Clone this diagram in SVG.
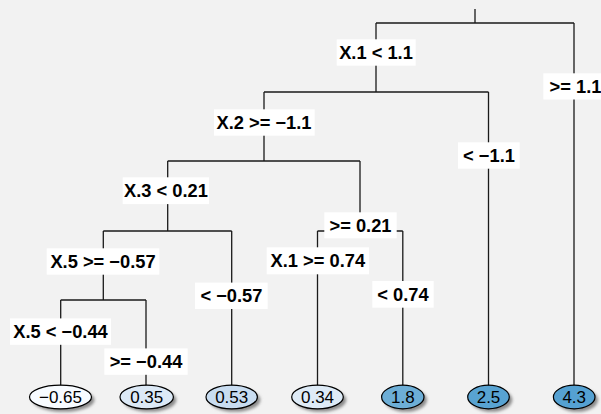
<svg xmlns="http://www.w3.org/2000/svg" width="601" height="414" viewBox="0 0 601 414">
<style>
.ln{stroke:#1a1a1a;stroke-width:1.3;fill:none}
.lb{fill:#ffffff;stroke:none}
.lt{font-family:"Liberation Sans",Arial,sans-serif;font-weight:bold;font-size:18.3px;text-anchor:middle;fill:#000}
.lf{stroke:#000;stroke-width:1.2}
.ft{font-family:"Liberation Sans",Arial,sans-serif;font-size:17px;text-anchor:middle;fill:#000}
.sh{fill:#8c8c8c;filter:url(#blur)}
</style>
<defs>
<filter id="blur" x="-30%" y="-50%" width="160%" height="200%"><feGaussianBlur stdDeviation="1.6"/></filter>
</defs>
<rect x="0" y="0" width="601" height="414" fill="#f2f2f2"/>
<g id="connectors">
<path class="ln" d="M475,9V23M376,23H574M376,23V92M574,23V386"/>
<path class="ln" d="M264,92H488.5M264,92V161M488.5,92V386"/>
<path class="ln" d="M167.7,161H360M167.7,161V231M360,161V231"/>
<path class="ln" d="M103.3,231H231.7M103.3,231V300M231.7,231V386"/>
<path class="ln" d="M317.5,231H402.8M317.5,231V386M402.8,231V386"/>
<path class="ln" d="M60.7,300H146M60.7,300V386M146,300V386"/>
</g>
<g id="labels">
<g id="l1"><rect class="lb" x="336.7" y="39.3" width="79" height="26.4"/><text class="lt" x="376" y="58.9">X.1 &lt; 1.1</text></g>
<g id="l2"><rect class="lb" x="543.3" y="73.3" width="62" height="26.2"/><text class="lt" x="575.5" y="92.7">&gt;= 1.1</text></g>
<g id="l3"><rect class="lb" x="214" y="109.3" width="100.7" height="26.4"/><text class="lt" x="264" y="128.9">X.2 &gt;= −1.1</text></g>
<g id="l4"><rect class="lb" x="458" y="142.3" width="61.7" height="26.4"/><text class="lt" x="489" y="161.9">&lt; −1.1</text></g>
<g id="l5"><rect class="lb" x="122.7" y="177.3" width="86.3" height="26.8"/><text class="lt" x="166" y="197.1">X.3 &lt; 0.21</text></g>
<g id="l6"><rect class="lb" x="324.3" y="212.3" width="72.4" height="26"/><text class="lt" x="360.5" y="231.6">&gt;= 0.21</text></g>
<g id="l7"><rect class="lb" x="46.7" y="248.3" width="112.6" height="26.4"/><text class="lt" x="103" y="267.9">X.5 &gt;= −0.57</text></g>
<g id="l8"><rect class="lb" x="266.7" y="247.3" width="102.3" height="27"/><text class="lt" x="317.8" y="267.2">X.1 &gt;= 0.74</text></g>
<g id="l9"><rect class="lb" x="195" y="282.6" width="72.7" height="26.4"/><text class="lt" x="231.4" y="302.2">&lt; −0.57</text></g>
<g id="l10"><rect class="lb" x="372.3" y="281" width="61.4" height="26.7"/><text class="lt" x="403" y="300.8">&lt; 0.74</text></g>
<g id="l11"><rect class="lb" x="10" y="318.4" width="101" height="26.4"/><text class="lt" x="60.5" y="338">X.5 &lt; −0.44</text></g>
<g id="l12"><rect class="lb" x="104.3" y="348.4" width="83.4" height="26.4"/><text class="lt" x="146" y="368">&gt;= −0.44</text></g>
</g>
<g id="leaves">
<g id="n1"><ellipse class="sh" cx="63.5" cy="400" rx="31" ry="11.8"/><ellipse class="lf" cx="60.5" cy="397" rx="31" ry="11.8" fill="#f7fbff"/><text class="ft" x="60.5" y="403.1">−0.65</text></g>
<g id="n2"><ellipse class="sh" cx="149.7" cy="400" rx="26.7" ry="11.8"/><ellipse class="lf" cx="146.7" cy="397" rx="26.7" ry="11.8" fill="#dce9f6"/><text class="ft" x="146.7" y="403.1">0.35</text></g>
<g id="n3"><ellipse class="sh" cx="234.7" cy="400" rx="25.7" ry="11.8"/><ellipse class="lf" cx="231.7" cy="397" rx="25.7" ry="11.8" fill="#c8dcf0"/><text class="ft" x="231.7" y="403.1">0.53</text></g>
<g id="n4"><ellipse class="sh" cx="320.5" cy="400" rx="25.8" ry="11.8"/><ellipse class="lf" cx="317.5" cy="397" rx="25.8" ry="11.8" fill="#deebf7"/><text class="ft" x="317.5" y="403.1">0.34</text></g>
<g id="n5"><ellipse class="sh" cx="405.8" cy="400" rx="21.2" ry="11.8"/><ellipse class="lf" cx="402.8" cy="397" rx="21.2" ry="11.8" fill="#6daed6"/><text class="ft" x="402.8" y="403.1">1.8</text></g>
<g id="n6"><ellipse class="sh" cx="491.5" cy="400" rx="20.8" ry="11.8"/><ellipse class="lf" cx="488.5" cy="397" rx="20.8" ry="11.8" fill="#58a3d2"/><text class="ft" x="488.5" y="403.1">2.5</text></g>
<g id="n7"><ellipse class="sh" cx="577.2" cy="400" rx="20.8" ry="11.8"/><ellipse class="lf" cx="574.2" cy="397" rx="20.8" ry="11.8" fill="#55a1d2"/><text class="ft" x="574.2" y="403.1">4.3</text></g>
</g>
</svg>
